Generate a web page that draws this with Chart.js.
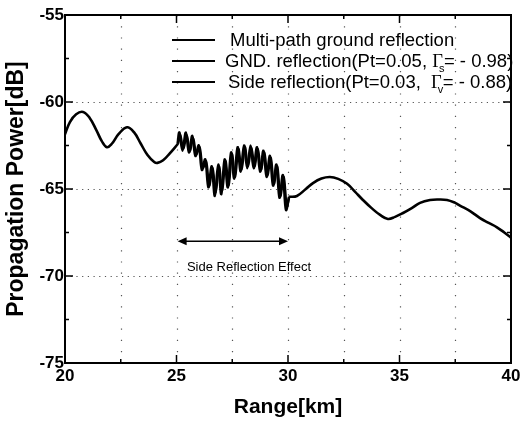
<!DOCTYPE html>
<html><head><meta charset="utf-8">
<script src="https://cdn.jsdelivr.net/npm/chart.js@4"></script>
<style>html,body{margin:0;padding:0;background:#fff}#wrap{width:532px;height:426px;position:relative}</style>
</head><body><div id="wrap"><canvas id="c" width="532" height="426"></canvas></div>
<script>
// ---- data ----
const smoothRange = [20.0,20.22,20.5,20.81,21.1,21.4,21.65,21.88,22.1,22.4,22.78,23.1,23.4,23.7,24.0,24.15,24.4,24.7,25.07,27.5,30.05,30.4,30.8,31.12,31.5,31.88,32.25,32.65,33.0,33.36,33.75,34.13,34.48,34.8,35.16,35.55,35.92,36.37,36.75,37.13,37.5,37.71,38.2,38.61,39.0,39.37,39.7,40.0];
const smoothPower = [-61.85,-61.15,-60.7,-60.57,-60.9,-61.6,-62.25,-62.6,-62.4,-61.85,-61.45,-61.75,-62.4,-63.05,-63.45,-63.5,-63.35,-62.95,-62.4,null,-65.45,-65.4,-65.0,-64.66,-64.4,-64.31,-64.42,-64.7,-65.15,-65.63,-66.1,-66.49,-66.72,-66.6,-66.38,-66.1,-65.8,-65.63,-65.6,-65.63,-65.8,-65.95,-66.3,-66.67,-66.95,-67.2,-67.5,-67.8];
const gndRange = [25.05,25.13,25.27,25.42,25.56,25.71,25.85,26.0,26.14,26.29,26.43,26.58,26.72,26.87,27.01,27.16,27.30,27.45,27.59,27.74,27.88,28.03,28.17,28.32,28.46,28.61,28.75,28.90,29.04,29.19,29.33,29.48,29.62,29.77,29.91,30.05];
const gndPower = [-62.4,-61.75,-62.8,-61.75,-62.9,-61.95,-63.1,-62.5,-63.9,-63.3,-64.9,-63.7,-65.4,-63.6,-65.3,-63.3,-64.9,-62.9,-64.4,-62.6,-64.0,-62.5,-63.8,-62.5,-63.8,-62.6,-64.0,-62.8,-64.3,-63.1,-64.8,-63.6,-65.5,-64.2,-66.2,-65.45];
const sideRange = [25.07,25.17,25.31,25.46,25.60,25.75,25.89,26.04,26.18,26.33,26.47,26.62,26.76,26.91,27.05,27.20,27.34,27.49,27.63,27.78,27.92,28.07,28.21,28.36,28.50,28.65,28.79,28.94,29.08,29.23,29.37,29.52,29.66,29.81,29.95,30.05];
const sidePower = [-62.4,-61.9,-62.7,-61.9,-62.8,-62.1,-63.0,-62.6,-63.8,-63.4,-64.8,-63.8,-65.2,-63.7,-65.1,-63.4,-64.8,-63.0,-64.3,-62.7,-63.9,-62.6,-63.7,-62.6,-63.7,-62.7,-63.9,-62.9,-64.2,-63.2,-64.7,-63.7,-65.4,-64.3,-66.0,-65.45];
const xTickLabels = [20,25,30,35,40];
const yTickLabels = [-55,-60,-65,-70,-75];
const xMinorTicks = [20,22.5,25,27.5,30,32.5,35,37.5,40];
const yMinorTicks = [-55,-57.5,-60,-62.5,-65,-67.5,-70,-72.5,-75];
const seriesNames = ['Multi-path ground reflection','GND. reflection(Pt=0.05, \u0393s= - 0.98)','Side reflection(Pt=0.03,  \u0393v= - 0.88)'];
const legendParts = [
  ['Multi-path ground reflection','',''],
  ['GND. reflection(Pt=0.05, ','s','= - 0.98)'],
  ['Side reflection(Pt=0.03,  ','v','= - 0.88)']
];
const arrowRange = [25.05, 30.0];
const arrowPower = -68.0;
const noteText = 'Side Reflection Effect';
const notePos = [28.25, -69.5];

const pts = (xs, ys) => xs.map((x,i)=>({x:x, y:ys[i]}));
const FONT = '"Liberation Sans", Arial, Helvetica, sans-serif';

const decor = {
  id:'decor',
  beforeDatasetsDraw(chart){
    const {ctx, chartArea:a, scales:{x,y}} = chart;
    ctx.save();
    ctx.strokeStyle = '#555'; ctx.lineWidth = 1.2;
    ctx.setLineDash([1.2, 10]);
    xMinorTicks.forEach(v=>{
      if (v===20||v===40) return;
      const px = Math.round(x.getPixelForValue(v))+0.5;
      ctx.beginPath(); ctx.moveTo(px, a.top); ctx.lineTo(px, a.bottom); ctx.stroke();
    });
    ctx.setLineDash([1.2, 4.5]);
    yTickLabels.forEach(v=>{
      if (v===-55||v===-75) return;
      const py = Math.round(y.getPixelForValue(v))+0.5;
      ctx.beginPath(); ctx.moveTo(a.left, py); ctx.lineTo(a.right, py); ctx.stroke();
    });
    ctx.restore();
  },
  afterDatasetsDraw(chart){
    const {ctx, chartArea:a, scales:{x,y}} = chart;
    ctx.save();
    ctx.setLineDash([]);
    ctx.strokeStyle = '#000';
    ctx.lineWidth = 2;
    ctx.strokeRect(a.left, a.top, a.right-a.left, a.bottom-a.top);
    ctx.lineWidth = 1.5;
    xMinorTicks.forEach(v=>{
      const px = x.getPixelForValue(v);
      const len = (v%5===0) ? 8 : 4;
      ctx.beginPath();
      ctx.moveTo(px, a.bottom); ctx.lineTo(px, a.bottom-len);
      ctx.moveTo(px, a.top); ctx.lineTo(px, a.top+len);
      ctx.stroke();
    });
    yMinorTicks.forEach(v=>{
      const py = y.getPixelForValue(v);
      const len = (v%5===0) ? 8 : 4;
      ctx.beginPath();
      ctx.moveTo(a.left, py); ctx.lineTo(a.left+len, py);
      ctx.moveTo(a.right, py); ctx.lineTo(a.right-len, py);
      ctx.stroke();
    });
    const fs = 18.5;
    const lineY = [40, 61, 82];
    ctx.fillStyle = '#000';
    ctx.textBaseline = 'middle';
    legendParts.forEach((p,i)=>{
      const ly = lineY[i];
      ctx.lineWidth = 2;
      ctx.beginPath(); ctx.moveTo(172, ly); ctx.lineTo(215, ly); ctx.stroke();
      ctx.font = fs + 'px ' + FONT;
      let tx = (i===0) ? 230 : (i===1 ? 225 : 228);
      ctx.textAlign = 'left';
      ctx.fillText(p[0], tx, ly+1);
      if (p[1]) {
        tx += ctx.measureText(p[0]).width;
        ctx.font = fs + 'px "Liberation Serif", "Times New Roman", serif';
        ctx.fillText('\u0393', tx, ly+1);
        const gw = ctx.measureText('\u0393').width;
        ctx.font = '11px ' + FONT;
        ctx.fillText(p[1], tx + gw - 4, ly + 8);
        ctx.font = fs + 'px ' + FONT;
        ctx.fillText(p[2], tx + gw + 1, ly+1);
      }
    });
    const ax1 = x.getPixelForValue(arrowRange[0]);
    const ax2 = x.getPixelForValue(arrowRange[1]);
    const ay = y.getPixelForValue(arrowPower);
    ctx.lineWidth = 1.5;
    ctx.beginPath(); ctx.moveTo(ax1+3, ay); ctx.lineTo(ax2-3, ay); ctx.stroke();
    ctx.beginPath(); ctx.moveTo(ax1, ay); ctx.lineTo(ax1+9, ay-4); ctx.lineTo(ax1+9, ay+4); ctx.closePath(); ctx.fill();
    ctx.beginPath(); ctx.moveTo(ax2, ay); ctx.lineTo(ax2-9, ay-4); ctx.lineTo(ax2-9, ay+4); ctx.closePath(); ctx.fill();
    ctx.font = '13px ' + FONT;
    ctx.textAlign = 'center';
    ctx.fillText(noteText, x.getPixelForValue(notePos[0]), y.getPixelForValue(notePos[1]));
    ctx.restore();
  }
};

new Chart(document.getElementById('c'), {
  type: 'line',
  data: {
    datasets: [
      {label: seriesNames[0], data: pts(smoothRange, smoothPower), borderColor:'#000', borderWidth:2.6, pointRadius:0, tension:0.4, spanGaps:false, fill:false},
      {label: seriesNames[1], data: pts(gndRange, gndPower), borderColor:'#000', borderWidth:2.6, pointRadius:0, tension:0.35, fill:false},
      {label: seriesNames[2], data: pts(sideRange, sidePower), borderColor:'#000', borderWidth:2.2, pointRadius:0, tension:0.35, fill:false}
    ]
  },
  options: {
    responsive: false,
    animation: false,
    layout: {padding: {top: 15, right: 21, left: 0, bottom: 0}},
    plugins: {legend: {display:false}, tooltip: {enabled:false}},
    scales: {
      x: {
        type: 'linear', min: 20, max: 40,
        afterBuildTicks: s => { s.ticks = xTickLabels.map(v=>({value:v})); },
        afterFit: s => { s.height = 63; },
        grid: {display:false, drawTicks:false},
        border: {display:false},
        ticks: {padding: 3, color:'#000', font:{family:FONT, size:17, weight:'bold'}, maxRotation:0, autoSkip:false},
        title: {display:true, text:'Range[km]', color:'#000', font:{family:FONT, size:21, weight:'bold'}, padding:{top:0, bottom:6}}
      },
      y: {
        min: -75, max: -55,
        afterBuildTicks: s => { s.ticks = yTickLabels.map(v=>({value:v})); },
        afterFit: s => { s.width = 65; },
        grid: {display:false, drawTicks:false},
        border: {display:false},
        ticks: {padding: 1, color:'#000', font:{family:FONT, size:17, weight:'bold'}, autoSkip:false},
        title: {display:true, text:'Propagation Power[dB]', color:'#000', font:{family:FONT, size:23, weight:'bold'}, padding:{top:3, bottom:0}}
      }
    }
  },
  plugins: [decor]
});
</script>
</body></html>
